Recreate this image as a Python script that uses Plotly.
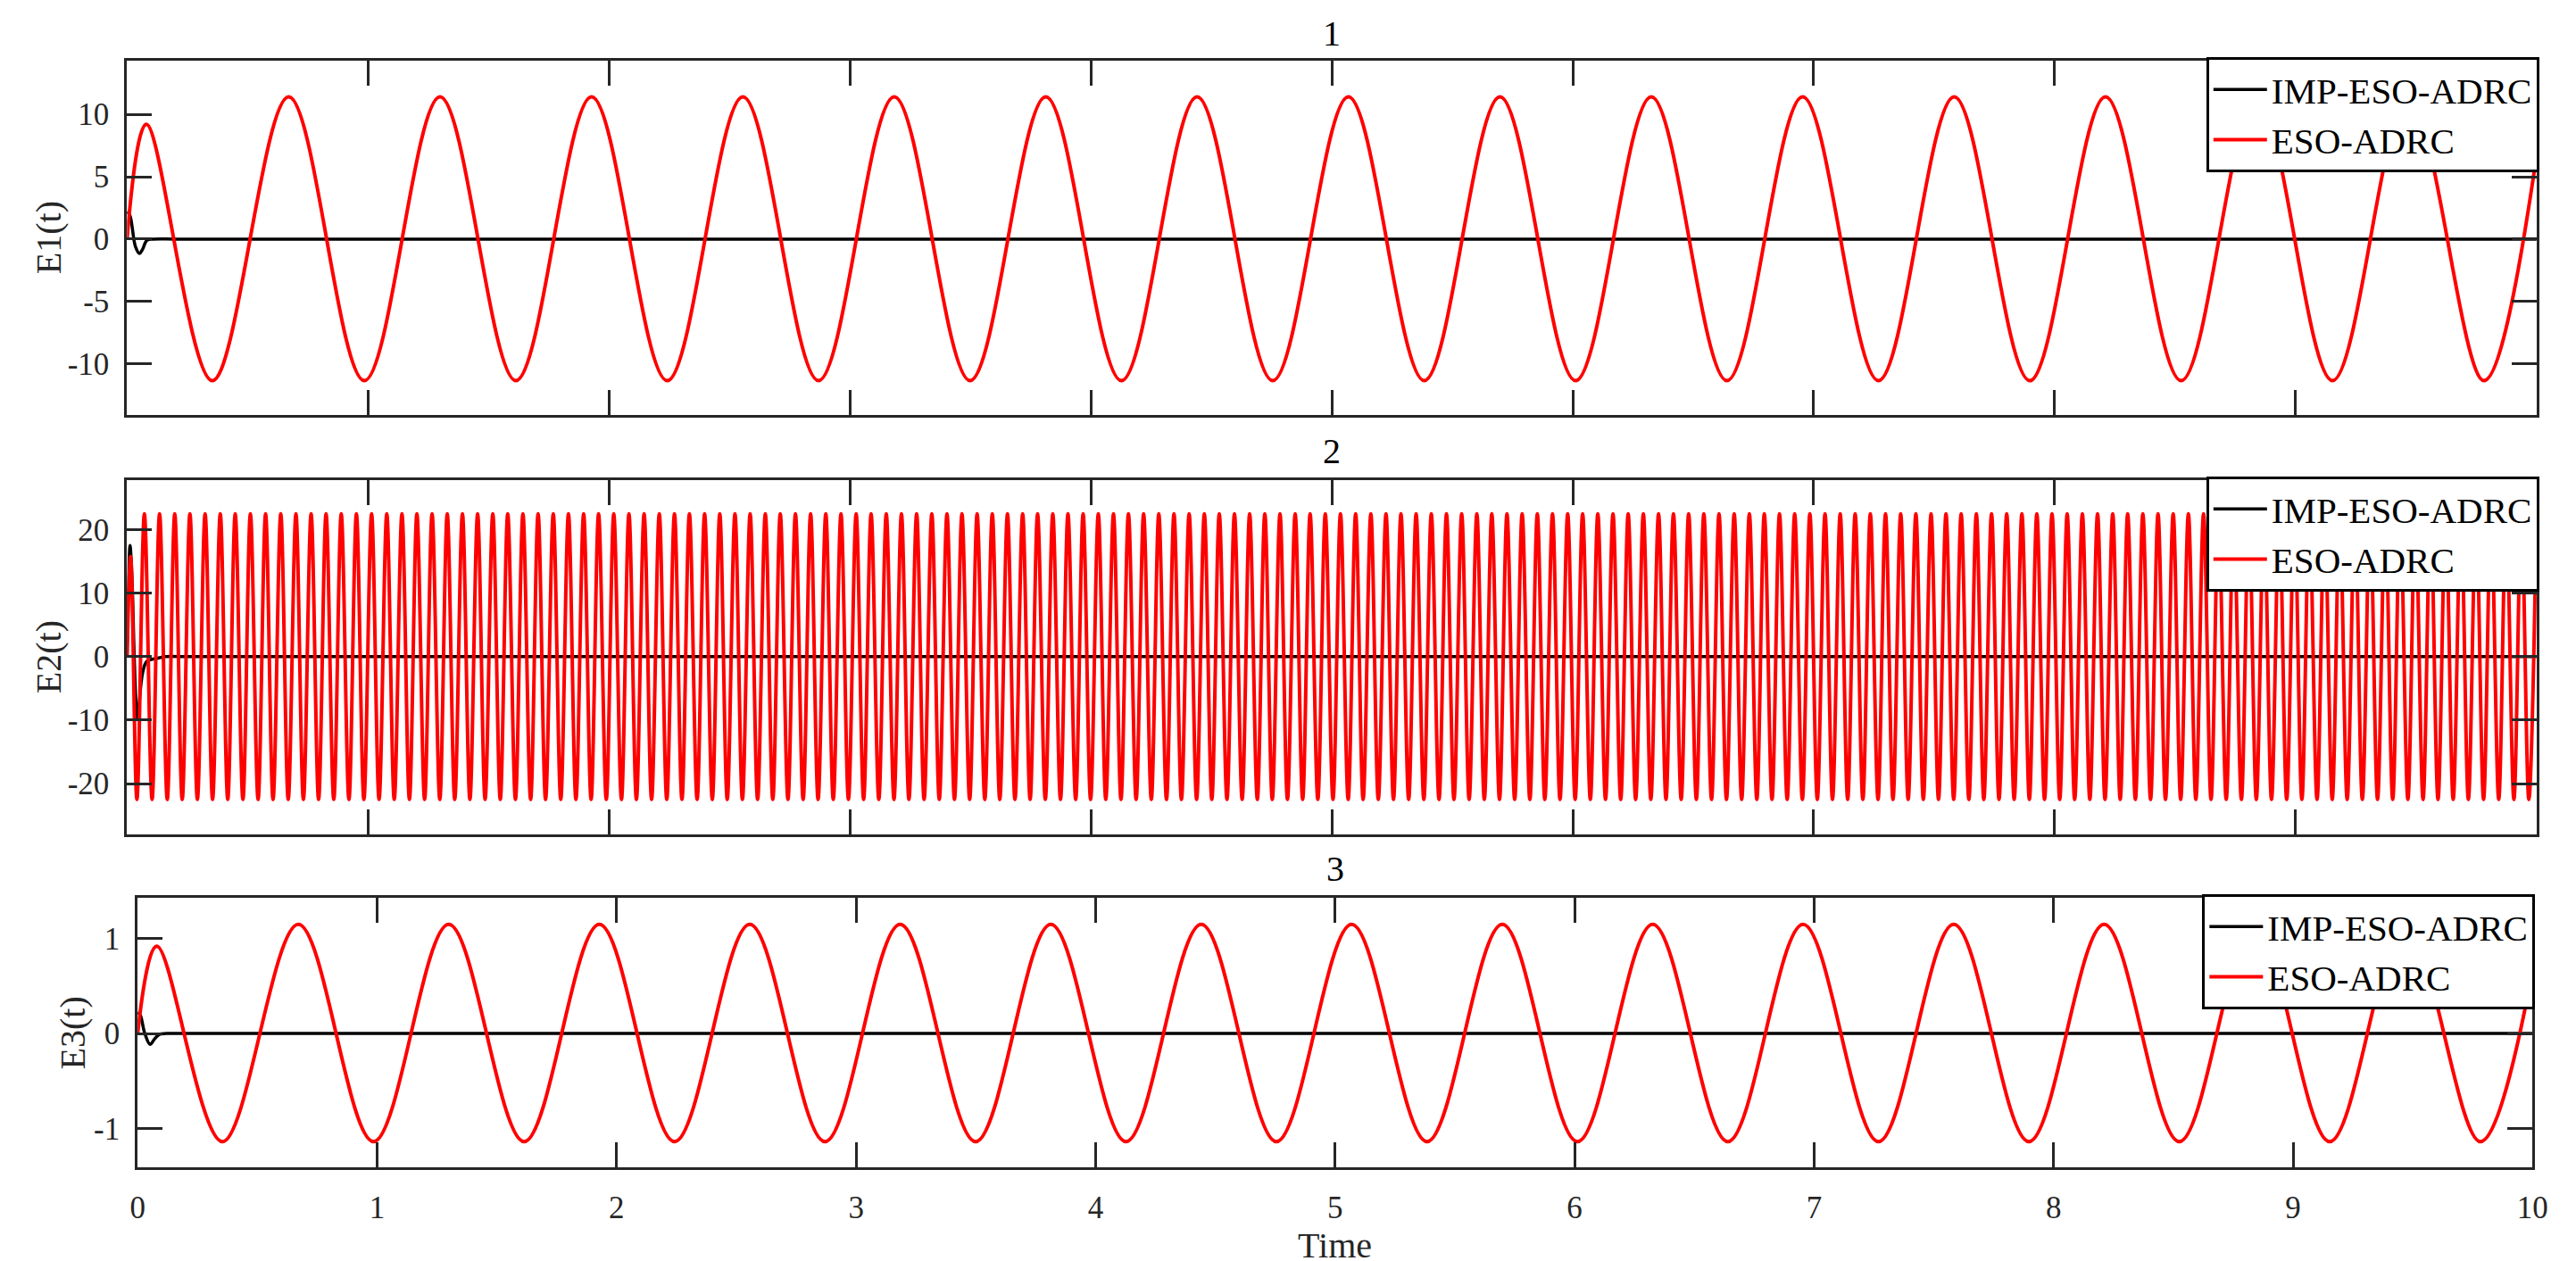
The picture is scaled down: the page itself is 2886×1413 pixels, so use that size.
import plotly.graph_objects as go

W, H = 2886, 1413
FONT = "Liberation Serif"
AX = "#262626"

# ---- data ----
# ESO-ADRC: start, first overshoot, then the extrema of the steady oscillation (E1 and E3 share timing)
E13_T = [0.0, 0.080, 0.354, 0.671, 0.985, 1.299, 1.614, 1.928, 2.242, 2.556, 2.870,
         3.184, 3.499, 3.813, 4.127, 4.441, 4.755, 5.069, 5.384, 5.698, 6.012,
         6.326, 6.640, 6.954, 7.269, 7.583, 7.897, 8.211, 8.525, 8.839, 9.153,
         9.468, 9.782, 10.0]
E1_V = [0.0, 9.2,
        -11.35, 11.4, -11.35, 11.4, -11.35, 11.4, -11.35, 11.4, -11.35, 11.4,
        -11.35, 11.4, -11.35, 11.4, -11.35, 11.4, -11.35, 11.4, -11.35, 11.4,
        -11.35, 11.4, -11.35, 11.4, -11.35, 11.4, -11.35, 11.4, -11.35, 11.4,
        -11.35, 6.7]
E3_V = [0.0, 0.92,
        -1.14, 1.15, -1.14, 1.15, -1.14, 1.15, -1.14, 1.15, -1.14, 1.15,
        -1.14, 1.15, -1.14, 1.15, -1.14, 1.15, -1.14, 1.15, -1.14, 1.15,
        -1.14, 1.15, -1.14, 1.15, -1.14, 1.15, -1.14, 1.15, -1.14, 1.15,
        -1.14, 0.66]

# E2 (ESO-ADRC): start, first overshoot, then alternating trough / peak times
E2_HEAD_T = [0.0, 0.015]
E2_HEAD_V = [0.0, 15.8]
E2_EXT_T = [
    0.041, 0.072, 0.104, 0.135, 0.167, 0.198, 0.229, 0.261, 0.292, 0.324,
    0.355, 0.387, 0.418, 0.449, 0.481, 0.512, 0.544, 0.575, 0.606, 0.638,
    0.669, 0.701, 0.732, 0.764, 0.795, 0.826, 0.858, 0.889, 0.921, 0.952,
    0.983, 1.015, 1.046, 1.078, 1.109, 1.141, 1.172, 1.203, 1.235, 1.266,
    1.298, 1.329, 1.360, 1.392, 1.423, 1.455, 1.486, 1.518, 1.549, 1.580,
    1.612, 1.643, 1.675, 1.706, 1.737, 1.769, 1.800, 1.832, 1.863, 1.895,
    1.926, 1.957, 1.989, 2.020, 2.052, 2.083, 2.114, 2.146, 2.177, 2.209,
    2.240, 2.272, 2.303, 2.334, 2.366, 2.397, 2.429, 2.460, 2.491, 2.523,
    2.554, 2.586, 2.617, 2.649, 2.680, 2.711, 2.743, 2.774, 2.806, 2.837,
    2.868, 2.900, 2.931, 2.963, 2.994, 3.026, 3.057, 3.088, 3.120, 3.151,
    3.183, 3.214, 3.245, 3.277, 3.308, 3.340, 3.371, 3.403, 3.434, 3.465,
    3.497, 3.528, 3.560, 3.591, 3.622, 3.654, 3.685, 3.717, 3.748, 3.779,
    3.811, 3.842, 3.874, 3.905, 3.937, 3.968, 3.999, 4.031, 4.062, 4.094,
    4.125, 4.156, 4.188, 4.219, 4.251, 4.282, 4.314, 4.345, 4.376, 4.408,
    4.439, 4.471, 4.502, 4.533, 4.565, 4.596, 4.628, 4.659, 4.691, 4.722,
    4.753, 4.785, 4.816, 4.848, 4.879, 4.910, 4.942, 4.973, 5.005, 5.036,
    5.068, 5.099, 5.130, 5.162, 5.193, 5.225, 5.256, 5.287, 5.319, 5.350,
    5.382, 5.413, 5.445, 5.476, 5.507, 5.539, 5.570, 5.602, 5.633, 5.664,
    5.696, 5.727, 5.759, 5.790, 5.822, 5.853, 5.884, 5.916, 5.947, 5.979,
    6.010, 6.041, 6.073, 6.104, 6.136, 6.167, 6.199, 6.230, 6.261, 6.293,
    6.324, 6.356, 6.387, 6.418, 6.450, 6.481, 6.513, 6.544, 6.576, 6.607,
    6.638, 6.670, 6.701, 6.733, 6.764, 6.795, 6.827, 6.858, 6.890, 6.921,
    6.953, 6.984, 7.015, 7.047, 7.078, 7.110, 7.141, 7.172, 7.204, 7.235,
    7.267, 7.298, 7.329, 7.361, 7.392, 7.424, 7.455, 7.487, 7.518, 7.549,
    7.581, 7.612, 7.644, 7.675, 7.706, 7.738, 7.769, 7.801, 7.832, 7.864,
    7.895, 7.926, 7.958, 7.989, 8.021, 8.052, 8.083, 8.115, 8.146, 8.178,
    8.209, 8.241, 8.272, 8.303, 8.335, 8.366, 8.398, 8.429, 8.460, 8.492,
    8.523, 8.555, 8.586, 8.618, 8.649, 8.680, 8.712, 8.743, 8.775, 8.806,
    8.837, 8.869, 8.900, 8.932, 8.963, 8.995, 9.026, 9.057, 9.089, 9.120,
    9.152, 9.183, 9.214, 9.246, 9.277, 9.309, 9.340, 9.372, 9.403, 9.434,
    9.466, 9.497, 9.529, 9.560, 9.591, 9.623, 9.654, 9.686, 9.717, 9.749,
    9.780, 9.811, 9.843, 9.874, 9.906, 9.937, 9.968, 10.000,
]
E2_TROUGH, E2_PEAK = -22.5, 22.5

# IMP-ESO-ADRC: short transient, then zero
E1_IMP_T = [0.0, 0.012, 0.035, 0.052, 0.065, 0.082, 0.11, 0.2, 0.5, 10.0]
E1_IMP_V = [2.2, 1.9, -0.6, -1.15, -0.8, -0.1, 0.0, 0.0, 0.0, 0.0]
E2_IMP_T = [0.0, 0.005, 0.0125, 0.02, 0.03, 0.038, 0.043, 0.05, 0.065, 0.082, 0.12, 0.16,
            0.25, 0.5, 10.0]
E2_IMP_V = [0.0, 10.0, 17.5, 13.0, 0.0, -8.0, -9.9, -7.5, -2.5, -0.75, -0.3, 0.0,
            0.0, 0.0, 0.0]
E3_IMP_T = [0.0, 0.01, 0.03, 0.052, 0.07, 0.09, 0.12, 0.2, 0.5, 10.0]
E3_IMP_V = [0.22, 0.2, 0.0, -0.115, -0.06, -0.01, 0.0, 0.0, 0.0, 0.0]

X_TICKS = [0, 1, 2, 3, 4, 5, 6, 7, 8, 9, 10]
Y1_TICKS = [-10, -5, 0, 5, 10]
Y2_TICKS = [-20, -10, 0, 10, 20]
Y3_TICKS = [-1, 0, 1]

e2_t = E2_HEAD_T + E2_EXT_T
e2_v = E2_HEAD_V + [E2_TROUGH if i % 2 == 0 else E2_PEAK for i in range(len(E2_EXT_T))]


def px(x):
    return x / W


def py(y):
    return 1 - y / H


# panel boxes in pixels: (left, right, top, bottom)
boxes = [(126.5, 2851.5, 60, 457), (126.5, 2851.5, 530, 927), (138.5, 2847, 998, 1300)]

fig = go.Figure()
panels = [
    (E1_IMP_T, E1_IMP_V, E13_T, E1_V),
    (E2_IMP_T, E2_IMP_V, e2_t, e2_v),
    (E3_IMP_T, E3_IMP_V, E13_T, E3_V),
]
for i, (bt, bv, rt, rv) in enumerate(panels):
    n = "" if i == 0 else str(i + 1)
    fig.add_trace(go.Scatter(x=bt, y=bv, mode="lines", name="IMP-ESO-ADRC",
                             line=dict(color="black", width=3.5, shape="spline"),
                             xaxis="x" + n, yaxis="y" + n, legend="legend" + n))
    fig.add_trace(go.Scatter(x=rt, y=rv, mode="lines", name="ESO-ADRC",
                             line=dict(color="#ff0000", width=4, shape="spline"),
                             xaxis="x" + n, yaxis="y" + n, legend="legend" + n))

axis_style = dict(
    showline=True, linewidth=3, linecolor=AX, mirror="ticks",
    ticks="inside", ticklen=28, tickwidth=3, tickcolor=AX,
    showgrid=False, zeroline=False,
    tickfont=dict(family=FONT, size=35, color=AX),
)

yranges = [[-14.1, 14.3], [-28.0, 27.8], [-1.41, 1.43]]
yticks = [Y1_TICKS, Y2_TICKS, Y3_TICKS]
layout = {}
for i, (l, r, t, b) in enumerate(boxes):
    n = "" if i == 0 else str(i + 1)
    layout["xaxis" + n] = dict(
        axis_style, domain=[px(l), px(r)], range=[0, 10], anchor="y" + n,
        tickvals=X_TICKS, ticktext=[str(v) for v in X_TICKS],
        showticklabels=(i == 2), ticklabelstandoff=12,
    )
    layout["yaxis" + n] = dict(
        axis_style, domain=[py(b), py(t)], range=yranges[i], anchor="x" + n,
        tickvals=yticks[i], ticktext=[str(v) for v in yticks[i]],
        ticklabelstandoff=10,
    )
    layout["legend" + n] = dict(
        x=px(r + 3), y=py(t - 4), xanchor="right", yanchor="top",
        bgcolor="white", bordercolor="black", borderwidth=3,
        font=dict(family=FONT, size=41, color="black"),
        itemwidth=60, tracegroupgap=0,
    )

fig.update_layout(
    width=W, height=H,
    margin=dict(l=0, r=0, t=0, b=0),
    paper_bgcolor="white", plot_bgcolor="white",
    font=dict(family=FONT, color="black"),
    **layout,
)

# panel titles and axis labels
titles = ["1", "2", "3"]
title_y = [29, 497, 965]
ylabels = ["E1(t)", "E2(t)", "E3(t)"]
ylabel_x = [38, 38, 65]
for i, (l, r, t, b) in enumerate(boxes):
    fig.add_annotation(x=px((l + r) / 2), y=py(title_y[i]), xref="paper", yref="paper",
                       text=titles[i], showarrow=False, xanchor="center", yanchor="middle",
                       font=dict(family=FONT, size=40, color="black"))
    fig.add_annotation(x=px(ylabel_x[i]), y=py((t + b) / 2), xref="paper", yref="paper",
                       text=ylabels[i], showarrow=False, textangle=-90,
                       xanchor="center", yanchor="middle",
                       font=dict(family=FONT, size=40, color=AX))

fig.add_annotation(x=px((boxes[2][0] + boxes[2][1]) / 2), y=py(1387), xref="paper", yref="paper",
                   text="Time", showarrow=False, xanchor="center", yanchor="middle",
                   font=dict(family=FONT, size=40, color=AX))

fig.write_html("out.html")
